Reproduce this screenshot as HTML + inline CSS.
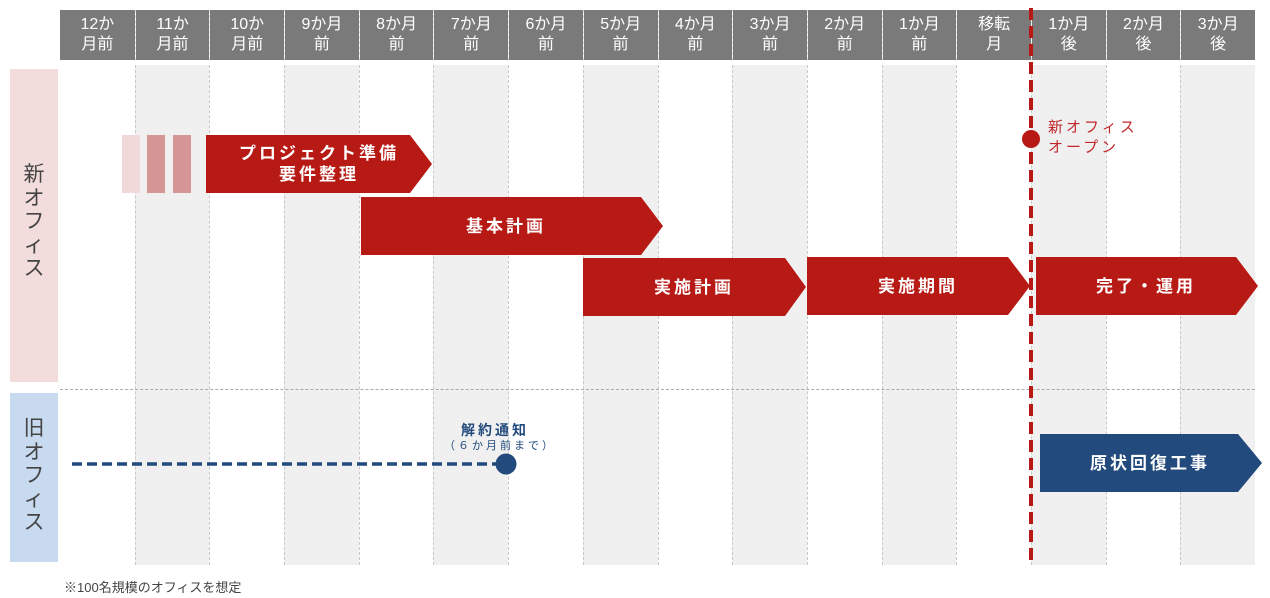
<!DOCTYPE html>
<html><head><meta charset="utf-8"><style>
body{margin:0;width:1270px;height:598px;background:#fff;position:relative;overflow:hidden;font-family:"Liberation Sans","Noto Sans CJK JP",sans-serif}
.a{position:absolute}
.h{position:absolute;top:10px;height:50px;background:#7a7a7a;color:#fff;font-size:16px;line-height:20px;text-align:center;padding-top:5px;box-sizing:border-box}
.c{position:absolute;top:65px;height:500px;border-left:1px dashed #c8c8c8;box-sizing:border-box}
.lab{position:absolute;left:10px;width:48px;color:#444;font-size:21px;text-align:center;line-height:23.5px}
.bt{position:absolute;color:#fff;font-weight:bold;font-size:17px;letter-spacing:3px;text-align:center;line-height:21px}
</style></head><body>
<div id="g"></div>
<script>
var L=["12か<br>月前","11か<br>月前","10か<br>月前","9か月<br>前","8か月<br>前","7か月<br>前","6か月<br>前","5か月<br>前","4か月<br>前","3か月<br>前","2か月<br>前","1か月<br>前","移転<br>月","1か月<br>後","2か月<br>後","3か月<br>後"];
var s="",w=74.69;
for(var i=0;i<16;i++){var x=60+i*w;
s+='<div class="h" style="left:'+(x+(i?1:0))+'px;width:'+(w-(i?1:0))+'px">'+L[i]+'</div>';
s+='<div class="c" style="left:'+x+'px;width:'+w+'px;background:'+(i%2?'#f0f0f0':'#fff')+';'+(i?'':'border-left:none')+'"></div>';}
for(var i=1;i<16;i++){s+='<div class="a" style="left:'+(60+i*w)+'px;top:10px;height:50px;border-left:1px dashed #ddd"></div>';}
document.getElementById('g').innerHTML=s;
</script>
<div class="a" style="left:60px;top:389px;width:1195px;border-top:1px dashed #aaa"></div>
<div class="a" style="left:10px;top:69px;width:48px;height:313px;background:#f2dcdc"></div>
<div class="a" style="left:10px;top:393px;width:48px;height:169px;background:#c8daf0"></div>
<div class="lab" style="top:163px">新<br>オ<br>フ<br>ィ<br>ス</div>
<div class="lab" style="top:417px">旧<br>オ<br>フ<br>ィ<br>ス</div>
<svg class="a" style="left:0;top:0" width="1270" height="598">
<rect x="122" y="135" width="18" height="58" fill="#f2d9d9"/>
<rect x="147" y="135" width="18" height="58" fill="#d59594"/>
<rect x="173" y="135" width="18" height="58" fill="#d59594"/>
<polygon points="206,135 410,135 432,164 410,193 206,193" fill="#b71a15"/>
<polygon points="361,197 641,197 663,226 641,255 361,255" fill="#b71a15"/>
<polygon points="583,258 785,258 806,287 785,316 583,316" fill="#b71a15"/>
<polygon points="807,257 1008,257 1030,286 1008,315 807,315" fill="#b71a15"/>
<polygon points="1036,257 1236,257 1258,286 1236,315 1036,315" fill="#b71a15"/>
<polygon points="1040,434 1238,434 1262,463 1238,492 1040,492" fill="#224a7c"/>
<line x1="1031" y1="8" x2="1031" y2="565" stroke="#b71a15" stroke-width="4" stroke-dasharray="12,6"/>
<circle cx="1031" cy="139" r="9" fill="#b71a15"/>
<line x1="72" y1="464" x2="500" y2="464" stroke="#224a7c" stroke-width="3.5" stroke-dasharray="10,5"/>
<circle cx="506" cy="464" r="10.5" fill="#224a7c"/>
</svg>
<div class="bt" style="left:206px;width:226px;top:143px">プロジェクト準備<br>要件整理</div>
<div class="bt" style="left:361px;width:290px;top:216px">基本計画</div>
<div class="bt" style="left:583px;width:222px;top:277px">実施計画</div>
<div class="bt" style="left:807px;width:222px;top:276px">実施期間</div>
<div class="bt" style="left:1036px;width:220px;top:276px">完了・運用</div>
<div class="bt" style="left:1040px;width:220px;top:453px">原状回復工事</div>
<div class="a" style="left:1048px;top:118px;color:#c0282a;font-size:15px;line-height:20px;letter-spacing:3px">新オフィス<br>オープン</div>
<div class="a" style="left:440px;top:420px;width:110px;text-align:center;color:#224a7c;font-size:14px;font-weight:bold;letter-spacing:3px">解約通知</div>
<div class="a" style="left:430px;top:437px;width:140px;text-align:center;color:#224a7c;font-size:11px;letter-spacing:3px">（６か月前まで）</div>
<div class="a" style="left:64px;top:577px;color:#444;font-size:13px">※100名規模のオフィスを想定</div>
</body></html>
